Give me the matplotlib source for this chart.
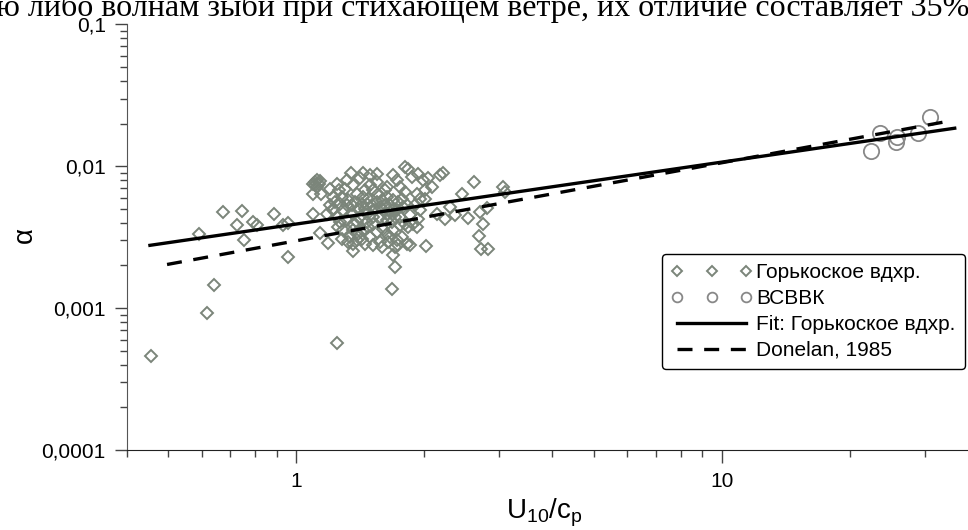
import numpy as np
import matplotlib
matplotlib.use('Agg')
import matplotlib.pyplot as plt
from matplotlib.ticker import LogLocator, FixedLocator, NullFormatter

plt.rcParams['font.family'] = ['Liberation Sans', 'DejaVu Sans']
plt.rcParams['mathtext.fontset'] = 'custom'
plt.rcParams['mathtext.rm'] = 'Liberation Sans'
plt.rcParams['mathtext.it'] = 'Liberation Sans'

# Горькоское вдхр. (U10/cp, alpha)
gor_x = [0.457, 0.618, 1.248, 0.593, 0.643, 0.673, 0.746, 0.726, 0.755, 0.791, 0.809,
         0.888, 0.930, 0.959, 0.956, 1.098, 1.118, 1.138, 1.108, 1.098, 1.145, 1.098,
         1.138, 1.187, 1.202, 1.250, 1.264, 1.315, 1.344, 1.434, 1.547, 1.363, 1.388,
         1.303, 1.327, 1.202, 1.223, 1.268, 1.180, 1.246, 1.291, 1.315, 1.363, 1.439,
         1.465, 1.492, 1.519, 1.561, 1.618, 1.633, 1.693, 1.663, 1.723, 1.754, 1.693,
         1.723, 1.754, 1.803, 1.835, 1.868, 1.937, 1.991, 2.045, 2.082, 2.009, 1.920,
         1.954, 2.009, 2.178, 2.218, 2.448, 2.617, 3.067, 3.095, 1.257, 1.280, 1.327,
         1.339, 1.363, 1.388, 1.359, 1.439, 1.492, 1.519, 1.574, 1.589, 1.633, 1.663,
         1.693, 1.723, 1.708, 1.738, 1.687, 1.708, 1.681, 1.819, 1.852, 2.018, 1.754,
         1.835, 1.920, 1.937, 2.138, 2.238, 2.299, 2.362, 2.539, 2.704, 2.803, 2.744,
         2.694, 2.719, 2.828, 1.268, 1.291, 1.465, 1.519, 1.574, 1.633, 1.663, 1.786,
         1.803, 1.363, 1.413, 1.465, 1.574, 1.603, 1.223, 1.234, 1.280, 1.315, 1.351,
         1.376, 1.401, 1.427, 1.452, 1.478, 1.505, 1.533, 1.547, 1.589, 1.618, 1.648,
         1.678, 1.708, 1.738, 1.770, 1.819, 1.852, 1.885, 1.363, 1.401, 1.427, 1.452,
         1.478, 1.547, 1.603, 1.648, 1.770, 1.223, 1.388, 1.519, 1.693, 1.633, 1.452,
         1.547, 1.413, 1.492, 1.633, 1.803, 1.903, 1.954, 1.110, 1.130, 1.120]
gor_y = [0.000456, 0.00093, 0.000564, 0.00335, 0.00145, 0.00474, 0.00481, 0.00386,
         0.00304, 0.00407, 0.00386, 0.00458, 0.00386, 0.00400, 0.00229, 0.00754, 0.00797,
         0.00788, 0.00735, 0.00641, 0.00641, 0.00458, 0.00338, 0.00288, 0.00689, 0.00754,
         0.00677, 0.00797, 0.00897, 0.00897, 0.00878, 0.00735, 0.00641, 0.00696, 0.00576,
         0.00531, 0.00503, 0.00545, 0.00463, 0.00439, 0.00489, 0.00416, 0.00463, 0.00607,
         0.00545, 0.00735, 0.00677, 0.00641, 0.00677, 0.00607, 0.00576, 0.00531, 0.00489,
         0.00439, 0.00864, 0.00797, 0.00715, 0.00989, 0.00963, 0.00841, 0.00888, 0.00797,
         0.00832, 0.00715, 0.00677, 0.00641, 0.00591, 0.00591, 0.00864, 0.00897, 0.00641,
         0.00775, 0.00715, 0.00659, 0.00373, 0.00309, 0.00292, 0.00317, 0.00285, 0.00301,
         0.00251, 0.00353, 0.00317, 0.00277, 0.00292, 0.00270, 0.00335, 0.00317, 0.00353,
         0.00304, 0.00270, 0.00277, 0.00235, 0.00195, 0.00137, 0.00285, 0.00277, 0.00275,
         0.00383, 0.00373, 0.00373, 0.00427, 0.00463, 0.00427, 0.00516, 0.00451, 0.00429,
         0.00476, 0.00511, 0.00394, 0.00321, 0.00260, 0.00262, 0.00405, 0.00353, 0.00405,
         0.00394, 0.00439, 0.00463, 0.00439, 0.00516, 0.00394, 0.00394, 0.00439, 0.00463,
         0.00516, 0.00489, 0.00607, 0.00561, 0.00607, 0.00531, 0.00531, 0.00561, 0.00503,
         0.00545, 0.00503, 0.00591, 0.00531, 0.00489, 0.00561, 0.00576, 0.00531, 0.00489,
         0.00405, 0.00439, 0.00561, 0.00591, 0.00531, 0.00451, 0.00394, 0.00353, 0.00335,
         0.00309, 0.00285, 0.00373, 0.00344, 0.00364, 0.00292, 0.00317, 0.00489, 0.00405,
         0.00439, 0.00489, 0.00416, 0.00677, 0.00775, 0.00820, 0.00864, 0.00715, 0.00659,
         0.00531, 0.00489, 0.0078, 0.0075, 0.0071]

# ВСВВК
lab_x = [22.4, 23.5, 25.8, 25.6, 28.8, 30.8]
lab_y = [0.0128, 0.0171, 0.0160, 0.0148, 0.0171, 0.0222]

# линии: аппроксимация и Donelan, 1985 (концы отрезков)
fit_x = [0.454, 35.2]
fit_y = [0.00277, 0.01854]
don_x = [0.498, 35.0]
don_y = [0.00203, 0.0211]

fig = plt.figure(figsize=(9.68, 5.30), dpi=100)
ax = fig.add_axes([0.1307, 0.151, 0.880, 0.803])

ax.plot(gor_x, gor_y, 'D', ms=6, mfc='none', mec='#7b857a', mew=1.4, ls='none',
        label='Горькоское вдхр.')
ax.plot(lab_x, lab_y, 'o', ms=11, mfc='none', mec='#888888', mew=1.3, ls='none',
        label='ВСВВК')
ax.plot(fit_x, fit_y, '-', color='black', lw=2.4, label='Fit: Горькоское вдхр.')
ax.plot(don_x, don_y, '--', color='black', lw=2.4, dashes=(4.5, 3.5), label='Donelan, 1985')

ax.set_xscale('log')
ax.set_yscale('log')
ax.set_xlim(0.4, 40)
ax.set_ylim(0.0001, 0.1)

ax.yaxis.set_major_locator(FixedLocator([0.0001, 0.001, 0.01, 0.1]))
ax.set_yticklabels(['0,0001', '0,001', '0,01', '0,1'])
ax.yaxis.set_minor_locator(LogLocator(base=10, subs=np.arange(2, 10)))
ax.yaxis.set_minor_formatter(NullFormatter())
ax.xaxis.set_major_locator(FixedLocator([1, 10]))
ax.set_xticklabels(['1', '10'])
ax.xaxis.set_minor_locator(LogLocator(base=10, subs=np.arange(2, 10)))
ax.xaxis.set_minor_formatter(NullFormatter())

ax.tick_params(which='major', direction='out', length=9, width=1, labelsize=15, pad=6,
               color='#444444')
ax.tick_params(which='minor', direction='out', length=5, width=1, color='#444444')
ax.tick_params(axis='x', which='major', pad=7)

for s in ['top', 'right']:
    ax.spines[s].set_visible(False)
ax.spines['left'].set_color('#555555')
ax.spines['bottom'].set_color('#222222')

ax.set_xlabel(r'$\mathrm{U_{10}/c_p}$', fontsize=20, va='center')
ax.xaxis.set_label_coords(0.491, -0.148)
ax.set_ylabel('α', fontsize=20, va='center')
ax.yaxis.set_label_coords(-0.119, 0.505)

leg = ax.legend(loc='upper right', bbox_to_anchor=(0.997, 0.521),
                bbox_transform=fig.transFigure, borderaxespad=0, numpoints=3,
                fontsize=15, handlelength=3.9, handletextpad=0.2, labelspacing=0.33,
                borderpad=0.45, fancybox=True, framealpha=1, edgecolor='black')
leg.get_frame().set_linewidth(1.0)
leg.legend_handles[0].set_markersize(5)
leg.legend_handles[1].set_markersize(7)

fig.text(-0.004, 1 - 16 / 530, 'ю либо волнам зыби при стихающем ветре, их отличие составляет 35%',
         family='Liberation Serif', fontsize=23, va='baseline', ha='left')

fig.savefig('out.png', dpi=100)
